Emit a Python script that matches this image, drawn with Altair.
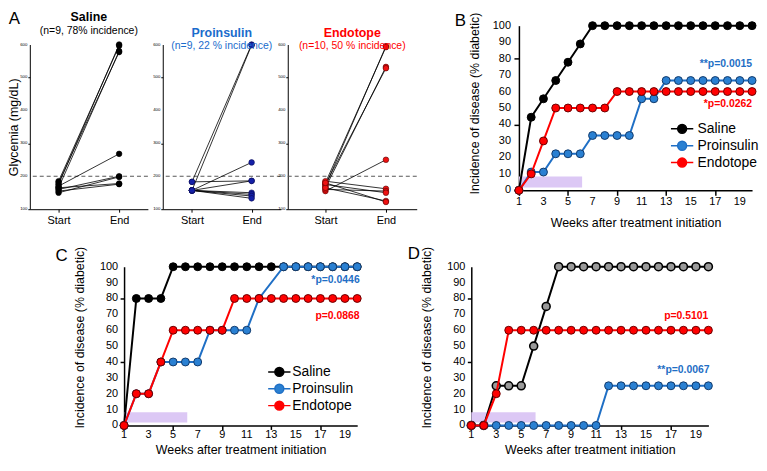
import altair as alt
import pandas as pd

FONT = "Liberation Sans"

# ---------------- Panel A data (glycemia, mg/dL) ----------------
a_time = ["Start", "End"]
a_ticks = [100, 200, 300, 400, 500, 600]
a_saline_start = [175, 185, 165, 180, 170, 160, 150, 165, 155]
a_saline_end = [600, 596, 580, 577, 268, 200, 198, 178, 176]
a_proins_start = [183, 157, 157, 183, 157, 157, 157, 157, 157]
a_proins_end = [600, 598, 242, 186, 186, 150, 145, 140, 133]
a_endo_start = [170, 180, 165, 175, 155, 185, 160, 175, 165, 180]
a_endo_end = [595, 592, 532, 528, 250, 162, 155, 150, 125, 122]

# ---------------- Panels B-D data (% diabetic) ----------------
groups = ["Saline", "Proinsulin", "Endotope"]
weeks = [1, 2, 3, 4, 5, 6, 7, 8, 9, 10, 11, 12, 13, 14, 15, 16, 17, 18, 19, 20]
week_ticks = [1, 3, 5, 7, 9, 11, 13, 15, 17, 19]
pct_ticks = [0, 10, 20, 30, 40, 50, 60, 70, 80, 90, 100]

b_saline = [0, 44.4, 55.6, 66.7, 77.8, 88.9, 100, 100, 100, 100, 100, 100, 100, 100, 100, 100, 100, 100, 100, 100]
b_proins = [0, 11.1, 11.1, 22.2, 22.2, 22.2, 33.3, 33.3, 33.3, 33.3, 55.6, 55.6, 66.7, 66.7, 66.7, 66.7, 66.7, 66.7, 66.7, 66.7]
b_endo = [0, 10, 30, 50, 50, 50, 50, 50, 60, 60, 60, 60, 60, 60, 60, 60, 60, 60, 60, 60]

c_saline = [0, 80, 80, 80, 100, 100, 100, 100, 100, 100, 100, 100, 100, 100, 100, 100, 100, 100, 100, 100]
c_proins = [0, 20, 20, 40, 40, 40, 40, 60, 60, 60, 60, 80, None, 100, 100, 100, 100, 100, 100, 100]
c_endo = [0, 20, 20, 40, 60, 60, 60, 60, 60, 80, 80, 80, 80, 80, 80, 80, 80, 80, 80, 80]

d_saline = [0, 0, 25, 25, 25, 50, 75, 100, 100, 100, 100, 100, 100, 100, 100, 100, 100, 100, 100, 100]
d_proins = [0, 0, 0, 0, 0, 0, 0, 0, 0, 0, 0, 25, 25, 25, 25, 25, 25, 25, 25, 25]
d_endo = [0, 0, 20, 60, 60, 60, 60, 60, 60, 60, 60, 60, 60, 60, 60, 60, 60, 60, 60, 60]

BLUE_LINE = "#1f6fc5"
BLUE_FILL = "#2a80d2"
RED = "#ff0000"
TITLE_BLUE = "#1a6ccc"
PURPLE = "#dcc8f5"
LEG_PATH = "M-2.5,0L-1,0M1,0L2.5,0M-1,0A1,1 0 1 1 1,0A1,1 0 1 1 -1,0Z"


def one_row():
    return alt.Data(values=[{"k": 1}])


def letter(txt, dx, dy):
    return alt.Chart(one_row()).mark_text(
        text=txt, font=FONT, fontSize=17, color="black", align="center", baseline="middle"
    ).encode(x=alt.value(dx), y=alt.value(dy))


def anchor(px, py):
    # invisible layout anchor (keeps the panel offset inside the page margin)
    return alt.Chart(one_row()).mark_point(opacity=0, size=1).encode(x=alt.value(px), y=alt.value(py))


def a_panel(starts, ends, width, pad, align, title, subtitle, tcolor, fill, pstroke, ytitle, let=None):
    rows = []
    for i, (s, e) in enumerate(zip(starts, ends)):
        rows.append({"mouse": i, "time": "Start", "glyc": s})
        rows.append({"mouse": i, "time": "End", "glyc": e})
    df = pd.DataFrame(rows)
    x = alt.X("time:N", sort=a_time,
              scale=alt.Scale(type="point", domain=a_time, padding=pad, align=align),
              axis=alt.Axis(title=None, labelAngle=0, labelFontSize=11, labelFont=FONT,
                            labelColor="black", tickSize=3, tickColor="black",
                            domainColor="black", labelPadding=2, grid=False))
    yaxis_kw = dict(values=a_ticks, labels=False, tickSize=2, tickColor="black",
                    domainColor="black", grid=False)
    if ytitle:
        yaxis_kw.update(title=ytitle, titleFontSize=12.5, titleFont=FONT, titleFontWeight="normal",
                        titleColor="black", titlePadding=6.5)
    else:
        yaxis_kw.update(title=None)
    y = alt.Y("glyc:Q", scale=alt.Scale(domain=[100, 600], range=[185, 19], nice=False, zero=False),
              axis=alt.Axis(**yaxis_kw))
    base = alt.Chart(df)
    thr = alt.Chart(one_row()).mark_rule(color="#555555", strokeDash=[4, 3], strokeWidth=1).encode(
        y=alt.datum(200))
    lines = base.mark_line(color="black", strokeWidth=0.8).encode(x=x, y=y, detail="mouse:N")
    pts = base.mark_circle(size=32, opacity=1, fill=fill, stroke=pstroke, strokeWidth=0.6).encode(x=x, y=y)
    tick_df = pd.DataFrame({"glyc": a_ticks, "lab": [str(v) for v in a_ticks]})
    ylabels = alt.Chart(tick_df).mark_text(font=FONT, fontSize=4.3, color="black", align="right",
                                           baseline="middle").encode(
        y=y, x=alt.value(-2.5), text="lab:N")
    layers = [thr, lines, pts, ylabels]
    if let is not None:
        layers.append(letter(*let))
        layers.append(anchor(-21, 100))
    return alt.layer(*layers).properties(
        width=width, height=185,
        title=alt.TitleParams(text=title, subtitle=subtitle, font=FONT, subtitleFont=FONT,
                              fontSize=12.5, subtitleFontSize=10.5, fontWeight="bold",
                              color=tcolor, subtitleColor=tcolor, anchor="middle", frame="group",
                              offset=0, dy=26.5, subtitlePadding=2))


def km_panel(series, width, height, styles, legend_xy, ptexts, let, tick, xlab_pad, ylab_pad,
             title_pad_x, title_pad_y, ytitle_y, top_anchor=None):
    rows = []
    for g, vals in zip(groups, series):
        for w, v in zip(weeks, vals):
            if v is not None:
                rows.append({"week": w, "pct": v, "group": g})
    df = pd.DataFrame(rows)
    xs = alt.Scale(domain=[1, 20], nice=False, zero=False)
    ys = alt.Scale(domain=[0, 100], nice=False, zero=False)
    xax = alt.Axis(values=week_ticks, labels=False, title="Weeks after treatment initiation",
                   titleFontSize=12.5, titleFont=FONT, titleFontWeight="normal", titleColor="black",
                   tickSize=tick, tickWidth=1.5, tickColor="black", domainColor="black",
                   domainWidth=1.5, titlePadding=title_pad_x, grid=False)
    yax = alt.Axis(values=pct_ticks, labels=False, title="Incidence of disease (% diabetic)",
                   titleFontSize=12.5, titleFont=FONT, titleFontWeight="normal", titleColor="black",
                   tickSize=tick, tickWidth=1.5, tickColor="black", domainColor="black",
                   domainWidth=1.5, titlePadding=title_pad_y, titleY=ytitle_y, grid=False)
    if legend_xy is not None:
        leg = alt.Legend(orient="none", legendX=legend_xy[0], legendY=legend_xy[1], title=None,
                         labelFontSize=14, labelFont=FONT, labelColor="black", symbolType=LEG_PATH,
                         symbolSize=81, symbolStrokeWidth=1.5, labelOffset=legend_xy[2],
                         rowPadding=legend_xy[3], padding=0)
    else:
        leg = None
    strokes = [styles[g]["line"] for g in groups]
    fills = [styles[g]["fill"] for g in groups]
    X = alt.X("week:Q", scale=xs, axis=xax)
    Y = alt.Y("pct:Q", scale=ys, axis=yax)
    layers = [alt.Chart(one_row()).mark_rect(color=PURPLE, opacity=1).encode(
        x=alt.datum(1), x2=alt.datum(6.15), y=alt.datum(1.8), y2=alt.datum(8.4))]
    for g in groups:
        sub = alt.Chart(df).transform_filter(alt.datum.group == g)
        layers.append(sub.mark_line(strokeWidth=2).encode(
            x=X, y=Y, stroke=alt.Stroke("group:N", scale=alt.Scale(domain=groups, range=strokes), legend=leg)))
        layers.append(sub.mark_circle(size=64, opacity=1, stroke=styles[g]["pstroke"],
                                      strokeWidth=styles[g]["psw"]).encode(
            x=X, y=Y, fill=alt.Fill("group:N", scale=alt.Scale(domain=groups, range=fills), legend=leg)))
    xt = pd.DataFrame({"week": week_ticks, "lab": [str(v) for v in week_ticks]})
    yt = pd.DataFrame({"pct": pct_ticks, "lab": [str(v) for v in pct_ticks]})
    layers.append(alt.Chart(xt).mark_text(font=FONT, fontSize=11, color="black", align="center",
                                          baseline="top").encode(
        x=X, y=alt.value(height + tick + xlab_pad), text="lab:N"))
    layers.append(alt.Chart(yt).mark_text(font=FONT, fontSize=11, color="black", align="right",
                                          baseline="middle").encode(
        y=Y, x=alt.value(-(tick + ylab_pad)), text="lab:N"))
    for txt, col, xv, yv in ptexts:
        layers.append(alt.Chart(one_row()).mark_text(
            text=txt, font=FONT, fontSize=10.5, fontWeight="bold", color=col, align="right",
            baseline="middle").encode(x=alt.datum(xv), y=alt.datum(yv)))
    layers.append(letter(*let))
    if top_anchor is not None:
        layers.append(anchor(100, top_anchor))
    return alt.layer(*layers).properties(width=width, height=height)


std_styles = {
    "Saline": {"line": "#000000", "fill": "#000000", "pstroke": "#000000", "psw": 1},
    "Proinsulin": {"line": BLUE_LINE, "fill": BLUE_FILL, "pstroke": "#123a6a", "psw": 1},
    "Endotope": {"line": RED, "fill": RED, "pstroke": "#6a0000", "psw": 1},
}
d_styles = {
    "Saline": {"line": "#000000", "fill": "#9a9a9a", "pstroke": "#000000", "psw": 1.6},
    "Proinsulin": {"line": BLUE_LINE, "fill": BLUE_FILL, "pstroke": "#123a6a", "psw": 1},
    "Endotope": {"line": RED, "fill": RED, "pstroke": "#6a0000", "psw": 1},
}


def spacer(w):
    return alt.Chart(one_row()).mark_point(opacity=0, size=1).encode(
        x=alt.value(w / 2), y=alt.value(0.5)).properties(width=w, height=1)


A1 = a_panel(a_saline_start, a_saline_end, 119, 0.475, 0.5, "Saline", "(n=9, 78% incidence)",
             "#000000", "#000000", "#000000", "Glycemia (mg/dL)", let=("A", -15.5, -7))
A2 = a_panel(a_proins_start, a_proins_end, 119, 0.49, 0.5, "Proinsulin", "(n=9, 22 % incidence)",
             TITLE_BLUE, "#1420a8", "#0a0a50", None)
A3 = a_panel(a_endo_start, a_endo_end, 130, 0.5656, 0.55, "Endotope", "(n=10, 50 % incidence)",
             RED, "#ee1111", "#550000", None)

B = km_panel([b_saline, b_proins, b_endo], 235, 166, std_styles, (157.5, 97, 8.5, 1.0),
             [("**p=0.0015", BLUE_LINE, 20, 76.5), ("*p=0.0262", RED, 20, 52.4)],
             ("B", -59, -5), 5, 1, 3, 20.5, 32, 78, top_anchor=-14.5)
C = km_panel([c_saline, c_proins, c_endo], 235, 160, std_styles, (149.5, 99, 6, 1.0),
             [("*p=0.0446", BLUE_LINE, 20.2, 91.7), ("p=0.0868", RED, 20.2, 68.9)],
             ("C", -63, -11), 4, 0, 2, 14, 33, 71)
D = km_panel([d_saline, d_proins, d_endo], 239, 160, d_styles, None,
             [("p=0.5101", RED, 20, 69.1), ("**p=0.0067", BLUE_LINE, 20.1, 34.7)],
             ("D", -58, -13), 4, 0, 2, 14, 33, 71)

IND = dict(fill="independent", stroke="independent")

row1 = alt.hconcat(A1, spacer(15), A2, spacer(7), A3, spacer(103), B,
                   spacing=0, bounds="flush").resolve_scale(**IND).resolve_legend(**IND)
row2 = alt.hconcat(spacer(95), C, spacer(115), D,
                   spacing=0, bounds="flush").resolve_scale(**IND).resolve_legend(**IND)

chart = alt.vconcat(row1, row2, spacing=16).resolve_scale(**IND).resolve_legend(**IND).properties(
    padding={"left": 0, "top": 0, "right": 0, "bottom": 0}
).configure(font=FONT).configure_view(stroke=None)

chart.save("out.html", embed_options={"renderer": "svg", "actions": False})
